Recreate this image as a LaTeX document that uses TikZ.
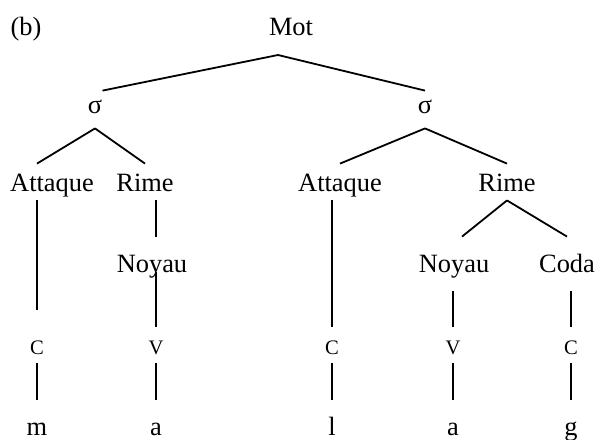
\documentclass[tikz,border=0pt]{standalone}
\usepackage{fontspec}
\setmainfont{Liberation Serif}
\usepackage{tikz}
\tikzstyle{lab} = [inner sep=0pt, anchor=base, font=\fontsize{13.2}{16}\selectfont]
\tikzstyle{syl} = [lab, text height=11pt, text depth=7.5pt]
\tikzstyle{cons} = [lab, text height=13.5pt, text depth=4.5pt]
\tikzstyle{sub} = [lab, text height=17.5pt, text depth=9.5pt]
\tikzstyle{cv} = [lab, font=\fontsize{10.3}{12}\selectfont, text height=13.5pt, text depth=4.5pt]
\tikzstyle{seg} = [lab, text height=17.5pt, text depth=2pt]
\tikzstyle{branch} = [line width=0.9pt]

\begin{document}
\begin{tikzpicture}[x=0.5pt, y=-0.5pt]
\useasboundingbox (0,0) rectangle (598,439);

\node[lab] (b) at (26,35) {(b)};
\node[lab] (mot) at (291,35) {Mot};
\coordinate (motj) at (278,55);

% syllables
\node[syl] (sl) at (95,113) {σ};
\node[syl] (sr) at (425,113) {σ};

\node[cons] (al) at (52,191) {Attaque};
\node[cons] (rl) at (145,191) {Rime};
\node[cons] (ar) at (340,191) {Attaque};
\node[cons] (rr) at (507,191) {Rime};

\node[sub] (nl) at (152,272) {Noyau};
\node[sub] (nr) at (454,272) {Noyau};
\node[sub] (co) at (567,272) {Coda};

% skeleton
\node[cv] (c1) at (37,354) {C};
\node[cv] (v1) at (156,354) {V};
\node[cv] (c2) at (332,354) {C};
\node[cv] (v2) at (453,354) {V};
\node[cv] (c3) at (571,354) {C};

\node[seg] (s1) at (37,435) {m};
\node[seg] (s2) at (156,435) {a};
\node[seg] (s3) at (332,435) {l};
\node[seg] (s4) at (453,435) {a};
\node[seg] (s5) at (571,435) {g};

\draw[branch] (motj) -- (sl.north east);
\draw[branch] (motj) -- (sr.north);
\draw[branch] (sl.south) -- (al.north -| c1);
\draw[branch] (sl.south) -- (rl.north);
\draw[branch] (sr.south) -- (ar.north);
\draw[branch] (sr.south) -- (rr.north);
\draw[branch] (al.south -| c1) -- ([yshift=8.5pt]c1.north);
\draw[branch] (ar.south -| c2) -- (c2.north);
\draw[branch] (rl.south -| v1) -- (nl.north -| v1);
\draw[branch] (nl.base -| v1) -- (v1.north);
\draw[branch] (rr.south) -- ([xshift=4pt]nr.north);
\draw[branch] (rr.south) -- (co.north);
\draw[branch] (nr.south -| v2) -- (v2.north);
\draw[branch] (co.south -| c3) -- (c3.north);
\foreach \u/\w in {c1/s1, v1/s2, c2/s3, v2/s4, c3/s5}
  \draw[branch] (\u.south) -- (\w.north);
\end{tikzpicture}
\end{document}
